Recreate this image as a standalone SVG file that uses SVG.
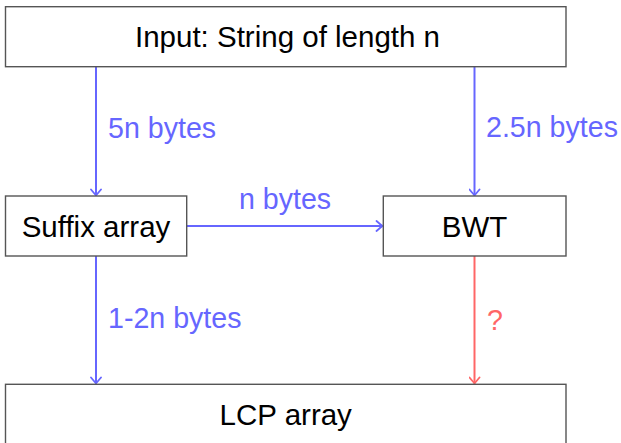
<svg xmlns="http://www.w3.org/2000/svg" width="621" height="443" viewBox="0 0 621 443">
<style>
.box{fill:#ffffff;stroke:#555555;stroke-width:1.4}
.t{font-family:"Liberation Sans",Arial,sans-serif;font-size:29.5px;fill:#000000}
.lb{font-family:"Liberation Sans",Arial,sans-serif;font-size:28.6px;fill:#6666ff}
.lr{font-family:"Liberation Sans",Arial,sans-serif;font-size:28.6px;fill:#ff6666}
.cb{stroke:#6666ff;stroke-width:2;fill:none}
.cr{stroke:#ff6666;stroke-width:2;fill:none}
</style>
<defs>
<marker id="ab" markerUnits="userSpaceOnUse" viewBox="-8 -6 10 12" refX="0" refY="0" markerWidth="10" markerHeight="12" orient="auto">
<path d="M-6,-5 Q-1.5,-1.2 0,0 Q-1.5,1.2 -6,5" fill="none" stroke="#6666ff" stroke-width="1.8" stroke-linecap="round"/>
</marker>
<marker id="ar" markerUnits="userSpaceOnUse" viewBox="-8 -6 10 12" refX="0" refY="0" markerWidth="10" markerHeight="12" orient="auto">
<path d="M-6,-5 Q-1.5,-1.2 0,0 Q-1.5,1.2 -6,5" fill="none" stroke="#ff6666" stroke-width="1.8" stroke-linecap="round"/>
</marker>
</defs>
<g id="connectors">
<line class="cb" x1="96" y1="67" x2="96" y2="195.5" marker-end="url(#ab)"/>
<line class="cb" x1="474.5" y1="67" x2="474.5" y2="195.5" marker-end="url(#ab)"/>
<line class="cb" x1="187" y1="226" x2="382.5" y2="226" marker-end="url(#ab)"/>
<line class="cb" x1="96" y1="256" x2="96" y2="383.5" marker-end="url(#ab)"/>
<line class="cr" x1="474.5" y1="256" x2="474.5" y2="383.5" marker-end="url(#ar)"/>
<text class="lb" x="108" y="138">5n bytes</text>
<text class="lb" x="486" y="137">2.5n bytes</text>
<text class="lb" x="285" y="209" text-anchor="middle">n bytes</text>
<text class="lb" x="108" y="328">1-2n bytes</text>
<text class="lr" x="487" y="330">?</text>
</g>
<g id="input">
<rect class="box" x="5.5" y="6.7" width="560.5" height="60"/>
<text class="t" x="287.5" y="47" text-anchor="middle">Input: String of length n</text>
</g>
<g id="suffix">
<rect class="box" x="5.5" y="196" width="181.2" height="60"/>
<text class="t" x="96" y="236.5" text-anchor="middle">Suffix array</text>
</g>
<g id="bwt">
<rect class="box" x="383.3" y="196" width="182.7" height="60"/>
<text class="t" x="474.5" y="236.5" text-anchor="middle">BWT</text>
</g>
<g id="lcp">
<rect class="box" x="5.5" y="384.3" width="560.5" height="60"/>
<text class="t" x="285.75" y="424.5" text-anchor="middle">LCP array</text>
</g>
</svg>
